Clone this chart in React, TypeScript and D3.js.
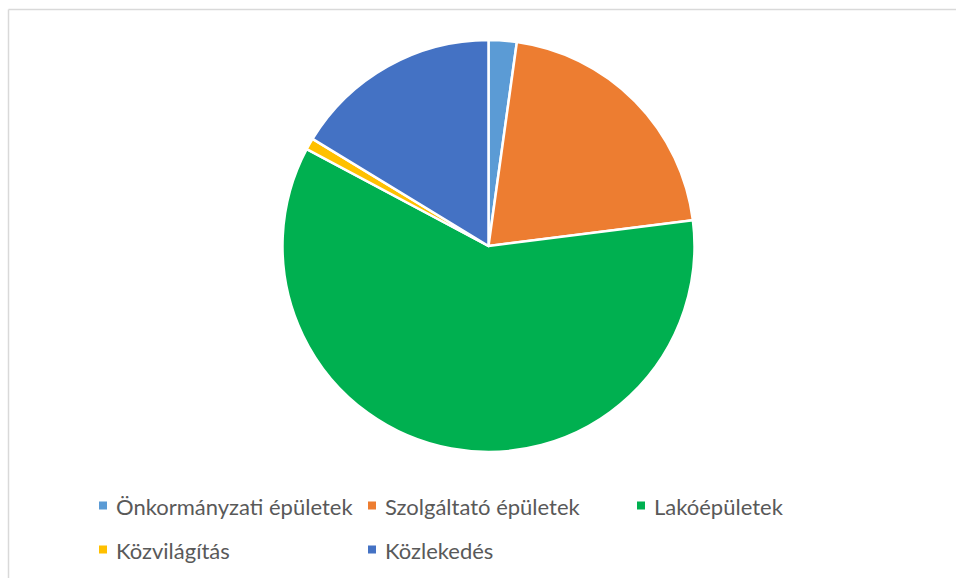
import { useMemo } from 'react';
import * as d3 from 'd3';

const categories = [
  'Önkormányzati épületek',
  'Szolgáltató épületek',
  'Lakóépületek',
  'Közvilágítás',
  'Közlekedés',
];
const values = [2.2, 20.8, 59.8, 0.9, 16.3];
const colors = ['#5b9bd5', '#ed7d31', '#00b050', '#ffc000', '#4472c4'];

const WIDTH = 956;
const HEIGHT = 578;

export default function App() {
  const cx = 488.5;
  const cy = 246;
  const radius = 206;

  const arcs = useMemo(() => {
    const pie = d3
      .pie<number>()
      .sort(null)
      .startAngle(0)
      .endAngle(2 * Math.PI)
      .value((d) => d);
    return pie(values);
  }, []);

  const arcGen = d3.arc<d3.PieArcDatum<number>>().innerRadius(0).outerRadius(radius);

  // legend layout: 3 columns, 2 rows
  const legendX = d3.scaleLinear().domain([0, 1]).range([99, 368]);
  const legendY = d3.scaleLinear().domain([0, 1]).range([505, 549]);

  return (
    <svg
      width={WIDTH}
      height={HEIGHT}
      style={{ position: 'absolute', left: 0, top: 0, display: 'block' }}
    >
      {/* chart area border (only top and left edges are in view) */}
      <line x1={8.5} y1={9.5} x2={WIDTH} y2={9.5} stroke="#d9d9d9" strokeWidth={1.5} />
      <line x1={8.5} y1={9.5} x2={8.5} y2={HEIGHT} stroke="#d9d9d9" strokeWidth={1.5} />

      <g transform={`translate(${cx},${cy})`}>
        {arcs.map((a, i) => (
          <path key={categories[i]} d={arcGen(a) ?? ''} fill={colors[i]} stroke="#fff" strokeWidth={2.5} strokeLinejoin="round" />
        ))}
      </g>

      {/* Legend */}
      <g fontFamily="Lato, 'Open Sans', sans-serif" fontSize={22} fill="#595959">
        {categories.map((c, i) => {
          const col = i % 3;
          const row = Math.floor(i / 3);
          const x = legendX(col);
          const y = legendY(row);
          return (
            <g key={c} transform={`translate(${x},${y})`}>
              <rect x={0} y={-3.5} width={8} height={8} fill={colors[i]} />
              <text x={17} y={1} dominantBaseline="central">
                {c}
              </text>
            </g>
          );
        })}
      </g>
    </svg>
  );
}
